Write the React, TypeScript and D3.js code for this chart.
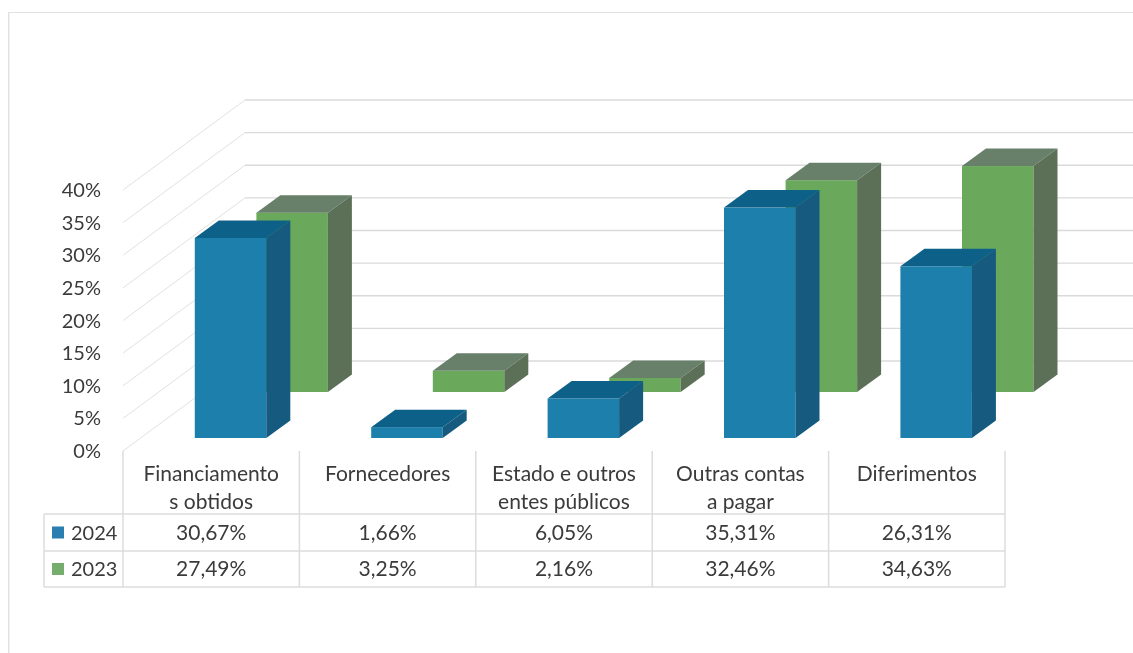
import React from "react";
import * as d3 from "d3";

const categories = [["Financiamento", "s obtidos"], ["Fornecedores"], ["Estado e outros", "entes públicos"], ["Outras contas", "a pagar"], ["Diferimentos"]];
const values2024 = [30.67, 1.66, 6.05, 35.31, 26.31];
const values2023 = [27.49, 3.25, 2.16, 32.46, 34.63];
const labels2024 = ["30,67%", "1,66%", "6,05%", "35,31%", "26,31%"];
const labels2023 = ["27,49%", "3,25%", "2,16%", "32,46%", "34,63%"];
const yTicks = [0, 5, 10, 15, 20, 25, 30, 35, 40];

const FONT = "Lato, 'Open Sans', sans-serif";
const TEXT = "#3a3a3a";
const GRID = "#dadada";
const TABLE = "#dcdcdc";

const indices = categories.map((_, i) => i);
const xCol = d3.scaleBand<number>().domain(indices).range([123, 1005]);
const y = d3.scaleLinear().domain([0, 40]).range([0, 261]);
const y0Front = 451;
const wallDx = 122;
const wallDy = -90;

function Bar({ x, base, h, w, dx, dy, front, top, side }: any) {
  const t = base - h;
  return (
    <g>
      <rect x={x} y={t} width={w} height={h} fill={front} />
      <path d={`M${x},${t}L${x + dx},${t + dy}H${x + w + dx}L${x + w},${t}Z`} fill={top} />
      <path d={`M${x + w},${t}L${x + w + dx},${t + dy}V${base + dy}L${x + w},${base}Z`} fill={side} />
    </g>
  );
}

export default function App() {
  const barW = 71.5;
  const dx = 24;
  const dy = -17.5;
  const blueBase = 438;
  const greenBase = 392;
  const blueOffset = 71.8;
  const greenOffset = 133.4;
  const rows = [
    { name: "2024", color: "#2a7fb0", labels: labels2024, top: 514, bottom: 551 },
    { name: "2023", color: "#74ad6c", labels: labels2023, top: 551, bottom: 587 },
  ];
  const bw = xCol.bandwidth();
  return (
    <svg width={1133} height={653} style={{ position: "absolute", left: 0, top: 0, background: "#fff" }}>
      <defs>
        <filter id="scan" x="0" y="0" width="100%" height="100%">
          <feGaussianBlur stdDeviation="0.45" />
        </filter>
      </defs>
      <g filter="url(#scan)">
        {/* chart frame */}
        <path d="M8.5,653V12H1133" fill="none" stroke="#e2e2e2" strokeWidth={2} />

        {/* walls */}
        {yTicks.map((t) => {
          const fy = y0Front - y(t);
          return (
            <g key={t} stroke={GRID} fill="none">
              <line x1={123} y1={fy} x2={123 + wallDx} y2={fy + wallDy} strokeOpacity={0.8} strokeWidth={1} />
              <line x1={123 + wallDx} y1={fy + wallDy} x2={1133} y2={fy + wallDy} strokeWidth={1.4} />
            </g>
          );
        })}

        {/* bars: back row first */}
        {indices.map((i) => (
          <Bar key={"g" + i} x={xCol(i)! + greenOffset} base={greenBase} h={y(values2023[i])} w={barW} dx={dx} dy={dy}
            front="#6aa85c" top="#67806a" side="#5c7058" />
        ))}
        {indices.map((i) => (
          <Bar key={"b" + i} x={xCol(i)! + blueOffset} base={blueBase} h={y(values2024[i])} w={barW} dx={dx} dy={dy}
            front="#1c7fac" top="#0f6188" side="#125a80" />
        ))}

        {/* y axis labels */}
        {yTicks.map((t) => (
          <text key={t} x={101} y={y0Front - y(t)} dy="0.35em" textAnchor="end" fontFamily={FONT} fontSize={20} fill={TEXT}>
            {t}%
          </text>
        ))}

        {/* data table */}
        <g stroke={TABLE} strokeWidth={1.5} fill="none">
          {indices.concat(categories.length).map((i) => {
            const x = 123 + i * bw;
            return <line key={i} x1={x} x2={x} y1={451} y2={587} />;
          })}
          <line x1={44} x2={44} y1={514} y2={587} />
          {[514, 551, 587].map((ry) => (
            <line key={ry} x1={44} x2={1005} y1={ry} y2={ry} />
          ))}
        </g>
        {categories.map((lines, i) => (
          <text key={i} x={xCol(i)! + bw / 2} textAnchor="middle" fontFamily={FONT} fontSize={21} fill={TEXT}>
            {lines.map((l, k) => (
              <tspan key={k} x={xCol(i)! + bw / 2} y={480.5 + k * 28.5}>{l}</tspan>
            ))}
          </text>
        ))}
        {rows.map((r) => (
          <g key={r.name}>
            <rect x={52} y={(r.top + r.bottom) / 2 - 6} width={12} height={12} fill={r.color} />
            <text x={71} y={(r.top + r.bottom) / 2} dy="0.35em" fontFamily={FONT} fontSize={20} fill={TEXT}>{r.name}</text>
            {r.labels.map((l, i) => (
              <text key={i} x={xCol(i)! + bw / 2} y={(r.top + r.bottom) / 2} dy="0.35em" textAnchor="middle" fontFamily={FONT} fontSize={21} fill={TEXT}>
                {l}
              </text>
            ))}
          </g>
        ))}
      </g>
    </svg>
  );
}
